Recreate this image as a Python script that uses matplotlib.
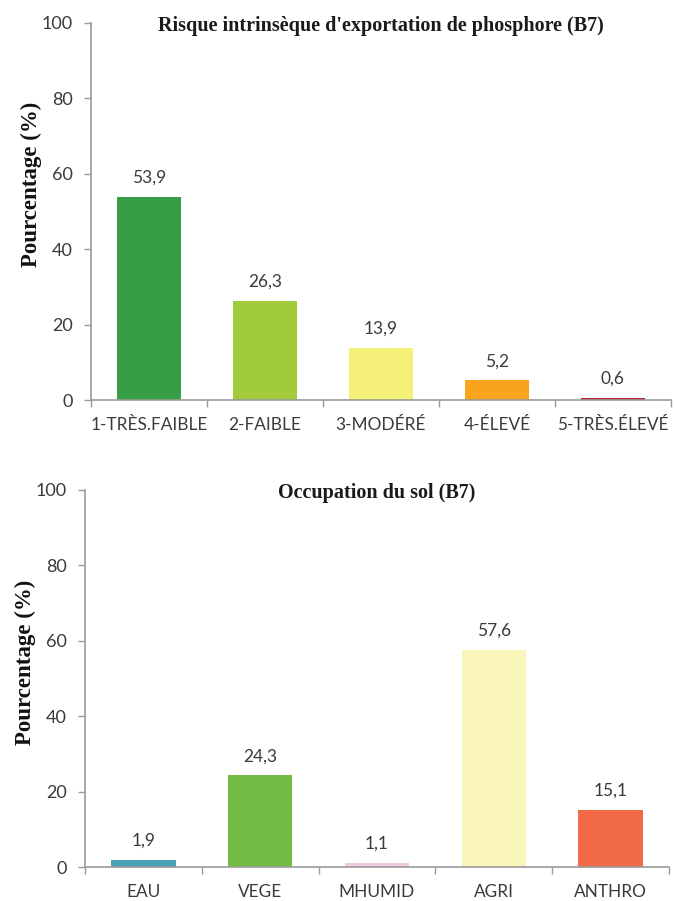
import matplotlib
matplotlib.use("Agg")
import matplotlib.pyplot as plt
from matplotlib.ticker import FixedLocator, NullFormatter

# Risk classes for phosphorus export (B7)
risk_labels = ["1-TRÈS.FAIBLE", "2-FAIBLE", "3-MODÉRÉ", "4-ÉLEVÉ", "5-TRÈS.ÉLEVÉ"]
risk_values = [53.9, 26.3, 13.9, 5.2, 0.6]
risk_colors = ["#389e45", "#a2cb3c", "#f5f077", "#f8a51d", "#b3262c"]

# Land use (B7)
landuse_labels = ["EAU", "VEGE", "MHUMID", "AGRI", "ANTHRO"]
landuse_values = [1.9, 24.3, 1.1, 57.6, 15.1]
landuse_colors = ["#4ba0b6", "#72bb44", "#ebcbde", "#faf6b9", "#f26a47"]

y_ticks = [0, 20, 40, 60, 80, 100]

tick_font = ["Lato", "DejaVu Sans"]
serif_font = ["Liberation Serif", "DejaVu Serif"]
axis_grey = "#9a9a9a"
text_dark = "#3a3a3a"

W, H = 675, 901
fig = plt.figure(figsize=(W / 100, H / 100), dpi=100)
fig.patch.set_facecolor("white")


def draw_panel(ax, labels, values, colors, title):
    x = list(range(len(labels)))
    ax.bar(x, values, width=0.55, color=colors, zorder=2)
    for xi, v in zip(x, values):
        ax.annotate(f"{v:.1f}".replace(".", ","), (xi, v), xytext=(0, 8),
                    textcoords="offset points", ha="center", va="bottom",
                    fontsize=12.5, color=text_dark, family=tick_font)
    ax.set_xlim(-0.5, len(labels) - 0.5)
    ax.set_ylim(0, 100)
    ax.set_yticks(y_ticks)
    ax.set_yticklabels([str(t) for t in y_ticks], family=tick_font,
                       fontsize=13, color=text_dark)
    ax.set_xticks(x)
    ax.set_xticklabels(labels, family=tick_font, fontsize=12.4, color=text_dark)
    ax.xaxis.set_minor_locator(FixedLocator([i - 0.5 for i in range(len(labels) + 1)]))
    ax.xaxis.set_minor_formatter(NullFormatter())
    ax.tick_params(axis="x", which="major", length=0, pad=12)
    ax.tick_params(axis="x", which="minor", length=5, width=1, color=axis_grey,
                   direction="out")
    ax.tick_params(axis="y", length=5, width=1, color=axis_grey, pad=8)
    for side in ("top", "right"):
        ax.spines[side].set_visible(False)
    for side in ("left", "bottom"):
        ax.spines[side].set_color(axis_grey)
        ax.spines[side].set_linewidth(1.2)
    ax.set_title(title, family=serif_font, fontweight="bold", fontsize=14.5,
                 color="#1a1a1a", pad=-6, y=1.0)


ax1 = fig.add_axes([0.1348, 0.556, 0.859, 0.4185])
draw_panel(ax1, risk_labels, risk_values, risk_colors,
           "Risque intrinsèque d'exportation de phosphore (B7)")
fig.text(31 / W, 1 - 184 / H, "Pourcentage (%)", rotation=90, ha="center",
         va="center", family=serif_font, fontweight="bold", fontsize=16.5,
         color="#111111")

ax2 = fig.add_axes([0.126, 0.0377, 0.865, 0.4185])
draw_panel(ax2, landuse_labels, landuse_values, landuse_colors,
           "Occupation du sol (B7)")
fig.text(25 / W, 1 - 662 / H, "Pourcentage (%)", rotation=90, ha="center",
         va="center", family=serif_font, fontweight="bold", fontsize=16.5,
         color="#111111")

fig.savefig("out.png", dpi=100)
